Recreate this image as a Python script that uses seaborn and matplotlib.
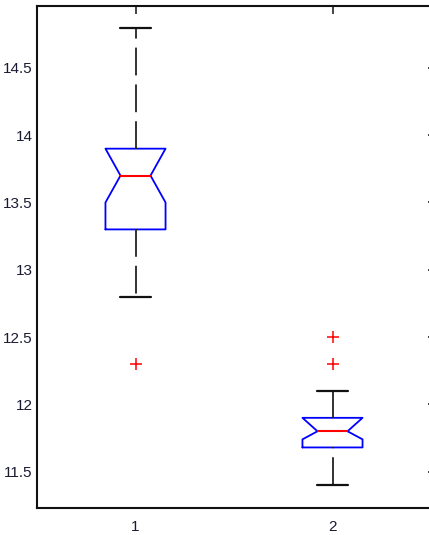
import matplotlib
matplotlib.use("Agg")
import matplotlib.pyplot as plt
import seaborn as sns

# Summary statistics for each group (notched box plot)
groups = [1, 2]
group_labels = ["1", "2"]
whisker_low = [12.8, 11.4]
q1 = [13.3, 11.68]
median = [13.7, 11.8]
q3 = [13.9, 11.9]
whisker_high = [14.8, 12.1]
notch_low = [13.5, 11.74]
notch_high = [13.9, 11.9]

# Points beyond the whiskers
outlier_group = [1, 2, 2]
outlier_value = [12.3, 12.3, 12.5]

y_ticks = [11.5, 12, 12.5, 13, 13.5, 14, 14.5]
y_tick_labels = ["11.5", "12", "12.5", "13", "13.5", "14", "14.5"]

sns.set_style("white")
plt.rcParams["font.family"] = ["Liberation Sans Narrow", "Liberation Sans", "DejaVu Sans"]
plt.rcParams["lines.scale_dashes"] = False

fig = plt.figure(figsize=(4.29, 5.35), dpi=100)
ax = fig.add_axes([37 / 429, 27 / 535, (431 - 37) / 429, 502 / 535])

stats = [
    dict(label=lab, whislo=wl, q1=a, med=m, q3=b, whishi=wh,
         cilo=cl, cihi=ch, fliers=[])
    for lab, wl, a, m, b, wh, cl, ch in zip(group_labels, whisker_low, q1, median,
                                             q3, whisker_high, notch_low, notch_high)
]

bp = ax.bxp(
    stats,
    positions=groups,
    widths=0.305,
    shownotches=True,
    showfliers=False,
    patch_artist=False,
    manage_ticks=False,
    boxprops=dict(color="blue", linewidth=1.3),
    medianprops=dict(color="red", linewidth=1.5),
    whiskerprops=dict(color="#222222", linewidth=1.3, linestyle=(0, (20.0, 6.5))),
    capprops=dict(color="#111111", linewidth=1.6),
)

# second group's lower whisker is dashed starting from its cap
w = bp["whiskers"][2]
xd, yd = w.get_data()
w.set_data(list(xd)[::-1], list(yd)[::-1])

sns.scatterplot(x=outlier_group, y=outlier_value, marker="+", color="red",
                s=70, linewidth=1.1, ax=ax, legend=False, zorder=3)

ax.set_xlim(0.5, 2.5)
ax.set_ylim(11.23, 14.96)
ax.set_xticks(groups)
ax.set_xticklabels(group_labels)
ax.set_yticks(y_ticks)
ax.set_yticklabels(y_tick_labels)

label_color = "#1a1a33"
ax.tick_params(axis="both", direction="in", top=True, right=True,
               labelcolor=label_color, color="#111111", labelsize=11)
ax.tick_params(axis="x", length=5.5, width=1.1, pad=8.5)
ax.tick_params(axis="y", length=2.5, width=1.1, pad=3)

for side in ["left", "right", "top", "bottom"]:
    ax.spines[side].set_color("#111111")
    ax.spines[side].set_linewidth(1.5)
    ax.spines[side].set_visible(True)

ax.set_xlabel("")
ax.set_ylabel("")

fig.savefig("out.png", dpi=100)
